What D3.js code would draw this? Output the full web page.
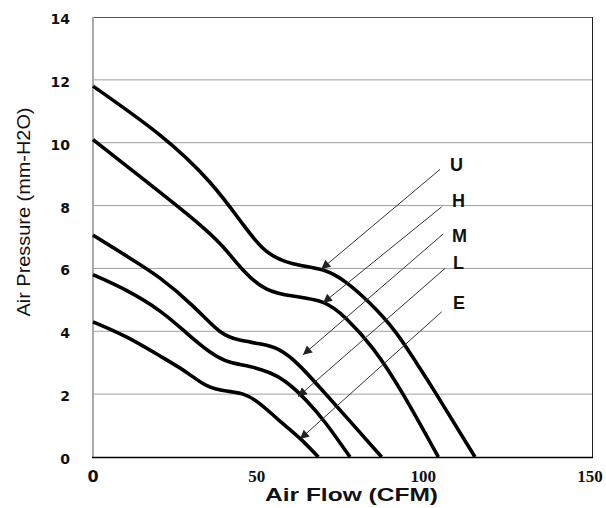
<!DOCTYPE html>
<html><head><meta charset="utf-8">
<script src="https://cdn.jsdelivr.net/npm/d3@7"></script>
<style>body{margin:0;background:#fff}svg{display:block}</style>
</head><body>
<svg id="c" width="606" height="508"></svg>
<script>
// ---- data ----
const flowU = [0,20,35,45,52,60,69,76,83,90.6,97,103,114.6];
const presU = [11.8,10.25,8.75,7.4,6.55,6.15,5.95,5.55,4.9,4.0,3.0,2.0,0];
const flowH = [0,15,28,38,45,52,60,69,76,84,93,103.6];
const presH = [10.1,8.85,7.75,6.8,5.95,5.35,5.12,4.92,4.4,3.45,2.0,0];
const flowM = [0,10,20,30,38,44,50,56,62,69,77,86.6];
const presM = [7.06,6.4,5.7,4.8,4.0,3.72,3.6,3.4,2.9,2.1,1.15,0];
const flowL = [0,10,20,28,35,41,47,53,58,64,70,77.1];
const presL = [5.8,5.3,4.65,3.95,3.35,3.02,2.88,2.68,2.38,1.8,1.05,0];
const flowE = [0,10,20,28,34,40,45,50,56,62,67.6];
const presE = [4.3,3.82,3.22,2.7,2.28,2.1,2.0,1.7,1.15,0.6,0];

const seriesNames = ["U","H","M","L","E"];
const arrowFromX = [104.1,104.6,105.1,105.6,104.6];
const arrowFromY = [9.15,7.96,7.1,6.0,4.62];
const arrowToX   = [68.5,69.0,63.0,61.5,62.1];
const arrowToY   = [5.98,4.9,3.25,1.92,0.57];
const labelX     = [107.1,107.7,107.7,108.0,108.0];
const labelY     = [9.1,7.95,6.84,5.98,4.71];

const xTicks = [0,50,100,150];
const yTicks = [0,2,4,6,8,10,12,14];
const xTitle = "Air Flow (CFM)";
const yTitle = "Air Pressure (mm-H2O)";

// ---- layout ----
const svg = d3.select("#c");
const m = {l:93, r:13, t:17, b:51};
const W = 606, H = 508;
const x = d3.scaleLinear().domain([0,150]).range([m.l, W-m.r]);
const y = d3.scaleLinear().domain([0,14]).range([H-m.b, m.t]);

// grid
svg.append("g").selectAll("line").data(yTicks.filter(d=>d>0 && d<14)).join("line")
  .attr("x1", x(0)).attr("x2", x(150))
  .attr("y1", d=>y(d)).attr("y2", d=>y(d))
  .attr("stroke", "#a0a0a0").attr("stroke-width", 1);

// frame
svg.append("line").attr("x1",x(0)).attr("x2",x(150)).attr("y1",y(14)+0.5).attr("y2",y(14)+0.5).attr("stroke","#555").attr("stroke-width",1);
svg.append("line").attr("x1",x(150)-0.5).attr("x2",x(150)-0.5).attr("y1",y(14)).attr("y2",y(0)).attr("stroke","#222").attr("stroke-width",1);
svg.append("line").attr("x1",x(0)).attr("x2",x(0)).attr("y1",y(14)).attr("y2",y(0)).attr("stroke","#aaa").attr("stroke-width",2);

// y ticks
svg.append("g").selectAll("text").data(yTicks).join("text")
  .attr("x", 70).attr("y", d=>y(d)+2)
  .attr("text-anchor","end").attr("dominant-baseline","central")
  .attr("font-family","DejaVu Sans").attr("font-weight","bold").attr("font-size",14)
  .attr("fill","#111").text(d=>d);

// x ticks
svg.append("g").selectAll("text").data(xTicks).join("text")
  .attr("x", d=> d===0 ? x(d) : x(d)-3).attr("y", 482)
  .attr("text-anchor","middle")
  .attr("font-family", d=> d===0 ? "DejaVu Sans" : "Liberation Serif")
  .attr("font-weight","bold").attr("font-size", d=> d===0 ? 16 : 17)
  .attr("fill","#111").text(d=>d);

// curves
const flows = [flowU,flowH,flowM,flowL,flowE];
const press = [presU,presH,presM,presL,presE];
const line = d3.line().x(d=>x(d[0])).y(d=>y(d[1])).curve(d3.curveNatural);
svg.append("g").selectAll("path").data(flows.map((f,i)=>f.map((v,j)=>[v,press[i][j]]))).join("path")
  .attr("d", line).attr("fill","none").attr("stroke","#000").attr("stroke-width",3.6)
  .attr("stroke-linejoin","round");

// bottom axis line
svg.append("line").attr("x1",x(0)-1).attr("x2",x(150)).attr("y1",y(0)+0.5).attr("y2",y(0)+0.5).attr("stroke","#000").attr("stroke-width",1.5);

// arrows
const defs = svg.append("defs");
defs.append("marker").attr("id","ah").attr("viewBox","0 0 10 10").attr("refX",10).attr("refY",5)
  .attr("markerWidth",13).attr("markerHeight",9).attr("markerUnits","userSpaceOnUse").attr("orient","auto")
  .append("path").attr("d","M0,0 L10,5 L0,10 Z").attr("fill","#222");
svg.append("g").selectAll("line").data(seriesNames).join("line")
  .attr("x1",(d,i)=>x(arrowFromX[i])).attr("y1",(d,i)=>y(arrowFromY[i]))
  .attr("x2",(d,i)=>x(arrowToX[i])).attr("y2",(d,i)=>y(arrowToY[i]))
  .attr("stroke","#333").attr("stroke-width",1).attr("marker-end","url(#ah)");

svg.append("g").selectAll("text").data(seriesNames).join("text")
  .attr("x",(d,i)=>x(labelX[i])).attr("y",(d,i)=>y(labelY[i]))
  .attr("font-family","Liberation Sans").attr("font-weight","bold").attr("font-size",18)
  .attr("fill","#111").text(d=>d);

// titles
svg.append("text").attr("x", 351.5).attr("y", 501).attr("text-anchor","middle")
  .attr("font-family","Liberation Sans").attr("font-weight","bold").attr("font-size",19)
  .attr("textLength",173).attr("lengthAdjust","spacingAndGlyphs").attr("fill","#111").text(xTitle);
svg.append("text").attr("transform","translate(30,212) rotate(-90)").attr("text-anchor","middle")
  .attr("font-family","Liberation Sans").attr("font-size",19)
  .attr("textLength",209).attr("lengthAdjust","spacingAndGlyphs").attr("fill","#111").text(yTitle);
</script>
</body></html>
